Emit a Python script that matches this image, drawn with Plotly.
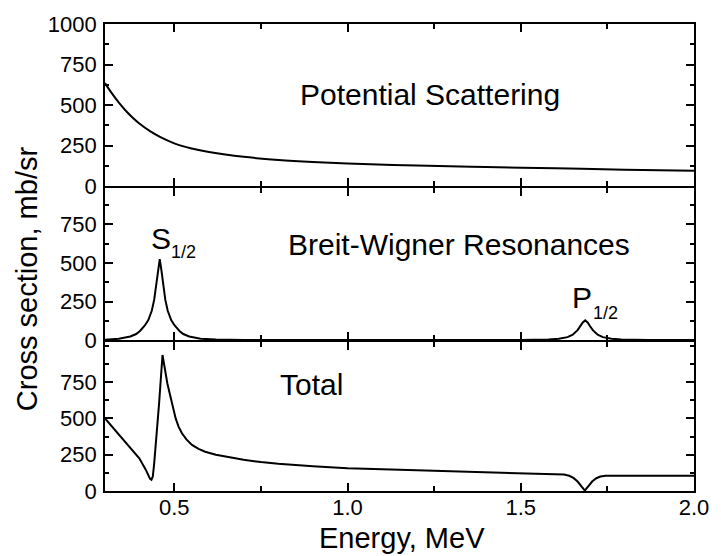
import plotly.graph_objects as go

# Potential scattering cross section (mb/sr) vs energy (MeV)
energy_pot = [0.30, 0.32, 0.34, 0.36, 0.38, 0.40, 0.43, 0.46, 0.50, 0.55,
              0.60, 0.70, 0.80, 0.90, 1.00, 1.20, 1.40, 1.60, 1.80, 2.00]
sigma_pot = [636, 572, 515, 465, 422, 385, 339, 302, 264, 233,
             211, 181, 162, 149, 140, 127, 118, 110, 102, 95]

# Breit-Wigner resonances S1/2 (near 0.46 MeV) and P1/2 (near 1.69 MeV)
energy_bw = [0.300, 0.340, 0.373, 0.390, 0.401, 0.415, 0.425, 0.435, 0.442, 0.448,
             0.453, 0.458, 0.463, 0.468, 0.474, 0.481, 0.491, 0.501, 0.515, 0.526,
             0.543, 0.576, 0.620, 0.700, 0.900, 1.200, 1.500, 1.580, 1.610, 1.635,
             1.650, 1.664, 1.672, 1.679, 1.686, 1.693, 1.700, 1.708, 1.722, 1.737,
             1.762, 1.790, 1.870, 2.000]
sigma_bw = [3, 10, 24, 40, 60, 95, 130, 190, 262, 360,
            450, 524, 450, 360, 262, 190, 130, 95, 60, 40,
            24, 10, 4, 2, 1, 1, 1, 4, 9, 20,
            35, 65, 90, 115, 128, 115, 90, 65, 35, 20,
            9, 4, 1, 1]

# Total cross section
energy_tot = [0.300, 0.333, 0.371, 0.399, 0.418, 0.425, 0.430, 0.434, 0.438, 0.442,
              0.447, 0.456, 0.466, 0.470, 0.475, 0.480, 0.489, 0.496, 0.504, 0.512,
              0.522, 0.535, 0.551, 0.570, 0.589, 0.620, 0.650, 0.700, 0.750, 0.800,
              0.900, 1.000, 1.200, 1.400, 1.550, 1.600, 1.625, 1.640, 1.652, 1.664,
              1.674, 1.680, 1.685, 1.690, 1.696, 1.706, 1.718, 1.730, 1.745, 1.800,
              2.000]
sigma_tot = [500, 408, 305, 225, 145, 108, 84, 78, 100, 190,
             320, 600, 936, 880, 810, 740, 649, 570, 500, 445,
             397, 355, 317, 290, 270, 250, 236, 215, 199, 187,
             170, 157, 142, 130, 120, 117, 113, 105, 90, 65,
             38, 18, 3, 18, 38, 65, 88, 100, 105, 106,
             105]

x_ticks = [0.5, 1.0, 1.5, 2.0]
x_tick_labels = ["0.5", "1.0", "1.5", "2.0"]
y_ticks_top = [0, 250, 500, 750, 1000]
y_ticks = [0, 250, 500, 750]

FONT = "Liberation Sans, Arial, sans-serif"
line = dict(color="black", width=2)

fig = go.Figure()
fig.add_trace(go.Scatter(x=energy_pot, y=sigma_pot, mode="lines",
                         line=dict(line, shape="spline", smoothing=1.0),
                         xaxis="x3", yaxis="y3", showlegend=False))
fig.add_trace(go.Scatter(x=energy_bw, y=sigma_bw, mode="lines", line=line,
                         xaxis="x2", yaxis="y2", showlegend=False))
fig.add_trace(go.Scatter(x=energy_tot, y=sigma_tot, mode="lines", line=line,
                         xaxis="x", yaxis="y", showlegend=False))

W, H = 721, 556
L, R, T, B = 105, 18, 24, 65
ph = H - T - B
LW = 1.6
base = H - B  # pixel row of the bottom axis


def frac(py):
    return (base - py) / ph


# Neighbouring panels leave a gap equal to the axis line width, so the
# shared border lines of adjacent panels are drawn on top of each other.
dom_bottom = [0, frac(341 + LW / 2)]
dom_middle = [frac(341 - LW / 2), frac(187 + LW / 2)]
dom_top = [frac(187 - LW / 2), 1]

xcommon = dict(range=[0.3, 2.0], showgrid=False, zeroline=False,
               showline=True, linecolor="black", linewidth=LW, mirror="allticks",
               ticks="inside", ticklen=8, tickwidth=1.5, tickcolor="black",
               tickvals=x_ticks, ticktext=x_tick_labels,
               minor=dict(dtick=0.25, tick0=0.25, ticks="inside", ticklen=5,
                          tickwidth=1.5, tickcolor="black"),
               tickfont=dict(family=FONT, size=22, color="black"),
               ticklabelstandoff=-4)
ycommon = dict(showgrid=False, zeroline=False,
               showline=True, linecolor="black", linewidth=LW, mirror="allticks",
               ticks="inside", ticklen=8, tickwidth=1.5, tickcolor="black",
               minor=dict(dtick=125, tick0=0, ticks="inside", ticklen=4,
                          tickwidth=1.5, tickcolor="black"),
               tickfont=dict(family=FONT, size=22, color="black"),
               ticklabelstandoff=2)

fig.update_layout(
    width=W, height=H,
    margin=dict(l=L, r=R, t=T, b=B),
    paper_bgcolor="white", plot_bgcolor="white",
    xaxis=dict(xcommon, anchor="y", domain=[0, 1], showticklabels=True),
    xaxis2=dict(xcommon, anchor="y2", domain=[0, 1], matches="x", showticklabels=False),
    xaxis3=dict(xcommon, anchor="y3", domain=[0, 1], matches="x", showticklabels=False),
    yaxis=dict(ycommon, anchor="x", domain=dom_bottom, range=[0, 1027], tickvals=y_ticks),
    yaxis2=dict(ycommon, anchor="x2", domain=dom_middle, range=[0, 985], tickvals=y_ticks),
    yaxis3=dict(ycommon, anchor="x3", domain=dom_top, range=[0, 1000], tickvals=y_ticks_top),
)


def px_to_paper(px, py):
    return (px - L) / (W - L - R), (base - py) / ph


ann_font = dict(family=FONT, size=30, color="black")
sub_font = dict(family=FONT, size=18, color="black")

fig.add_annotation(text="Potential Scattering", x=1.2375, y=564, xref="x3", yref="y3",
                   showarrow=False, font=ann_font, xanchor="center", yanchor="middle")
fig.add_annotation(text="Breit-Wigner Resonances", x=1.323, y=620, xref="x2", yref="y2",
                   showarrow=False, font=ann_font, xanchor="center", yanchor="middle")
fig.add_annotation(text="Total", x=0.897, y=736, xref="x", yref="y",
                   showarrow=False, font=ann_font, xanchor="center", yanchor="middle")
fig.add_annotation(text="S", x=0.463, y=659, xref="x2", yref="y2",
                   showarrow=False, font=ann_font, xanchor="center", yanchor="middle")
fig.add_annotation(text="1/2", x=0.527, y=572, xref="x2", yref="y2",
                   showarrow=False, font=sub_font, xanchor="center", yanchor="middle")
fig.add_annotation(text="P", x=1.678, y=278, xref="x2", yref="y2",
                   showarrow=False, font=ann_font, xanchor="center", yanchor="middle")
fig.add_annotation(text="1/2", x=1.745, y=178, xref="x2", yref="y2",
                   showarrow=False, font=sub_font, xanchor="center", yanchor="middle")

xt, yt = px_to_paper(407, 538)
fig.add_annotation(text="Energy, MeV", x=xt, y=yt, xref="paper", yref="paper",
                   showarrow=False, font=dict(family=FONT, size=29, color="black"),
                   xanchor="center", yanchor="middle")
xt, yt = px_to_paper(26, 279)
fig.add_annotation(text="Cross section, mb/sr", x=xt, y=yt, xref="paper", yref="paper",
                   showarrow=False, textangle=-90, font=dict(family=FONT, size=29, color="black"),
                   xanchor="center", yanchor="middle")

fig.write_html("out.html")
